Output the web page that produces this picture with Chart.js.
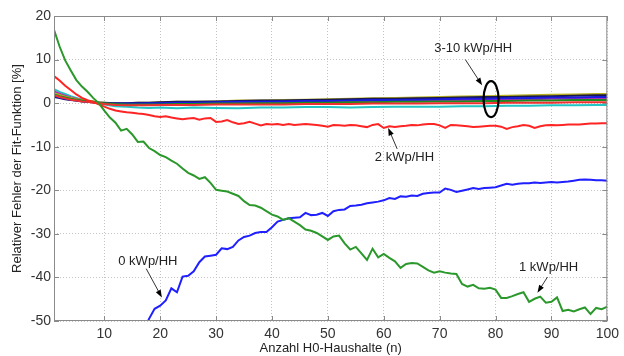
<!DOCTYPE html>
<html>
<head>
<meta charset="utf-8">
<script src="https://cdn.jsdelivr.net/npm/chart.js@4.4.1/dist/chart.umd.min.js"></script>
<style>
  html, body { margin: 0; padding: 0; background: #fff; }
  #wrap { width: 624px; height: 356px; }
</style>
</head>
<body>
<div id="wrap"><canvas id="fitChart"></canvas></div>
<script>
// --- data ---
const nHH = Array.from({ length: 100 }, (_, i) => i + 1);
const xTicks = [10, 20, 30, 40, 50, 60, 70, 80, 90, 100];
const yTicks = [-50, -40, -30, -20, -10, 0, 10, 20];

// 1 kWp/HH
const green1kWp = [
    16.8, 13.0, 9.8, 7.5, 5.3, 3.8, 2.6, 1.2, 0.0, -1.7,
    -3.3, -4.5, -6.3, -5.9, -7.2, -8.9, -8.8, -10.3, -11.0, -11.9,
    -12.4, -13.2, -13.9, -15.0, -16.0, -16.6, -17.4, -17.0, -18.3, -19.9,
    -20.1, -20.3, -20.8, -21.3, -22.5, -23.4, -23.5, -24.0, -24.8, -25.6,
    -26.0, -26.8, -26.4, -27.2, -28.0, -29.0, -29.3, -29.8, -30.6, -31.4,
    -30.6, -30.4, -32.2, -33.6, -33.0, -34.5, -36.0, -33.4, -35.4, -34.6,
    -35.5, -36.3, -37.8, -36.9, -36.7, -36.8, -37.6, -38.4, -38.9, -38.6,
    -38.9, -39.1, -39.2, -41.5, -42.1, -41.7, -42.5, -42.6, -42.4, -42.8,
    -44.7, -44.7, -44.3, -43.8, -43.4, -45.6, -44.9, -44.4, -45.8, -45.6,
    -44.6, -47.7, -47.4, -47.8, -47.3, -46.9, -48.4, -47.0, -47.3, -46.7
];

// 0 kWp/HH (enters the plot from below around n = 18)
const blue0kWp = [
    null, null, null, null, null, null, null, null, null, null,
    null, null, null, null, null, null, -52.5, -49.5, -47.2, -46.5,
    -45.3, -42.5, -43.4, -39.8, -39.6, -38.6, -36.5, -35.2, -35.0, -34.8,
    -33.3, -33.5, -33.0, -31.5, -30.7, -30.4, -29.8, -29.6, -29.6, -28.5,
    -27.2, -26.8, -26.4, -26.3, -26.2, -25.2, -25.7, -25.6, -25.2, -25.9,
    -24.8, -24.5, -24.4, -23.6, -23.5, -23.3, -23.0, -22.8, -22.6, -22.3,
    -21.8, -22.0, -21.4, -21.5, -21.2, -21.3, -20.8, -20.6, -20.5, -20.5,
    -19.6, -19.9, -20.4, -20.1, -19.8, -19.5, -19.7, -19.5, -19.4, -19.3,
    -18.9, -18.5, -18.7, -18.5, -18.4, -18.4, -18.2, -18.3, -18.2, -18.1,
    -18.2, -18.1, -18.0, -17.8, -17.6, -17.5, -17.6, -17.7, -17.7, -17.8
];

// 2 kWp/HH
const red2kWp = [
    6.2, 5.2, 4.0, 3.0, 2.0, 1.2, 0.7, 0.3, -0.3, -0.8,
    -1.3, -1.7, -1.9, -2.1, -2.2, -2.4, -2.5, -2.7, -3.0, -3.2,
    -3.0, -3.3, -3.5, -3.7, -3.5, -3.4, -3.8, -3.5, -3.4, -4.3,
    -4.2, -3.9, -4.4, -4.8, -4.6, -4.3, -4.7, -5.1, -4.8, -4.9,
    -4.8, -5.0, -4.8, -5.0, -4.9, -4.8, -4.9, -5.0, -5.2, -5.4,
    -5.0, -5.1, -5.2, -5.0, -5.1, -5.3, -5.5, -5.0, -4.8, -5.7,
    -5.3, -5.5, -5.3, -5.2, -5.0, -5.1, -4.9, -4.8, -4.8, -5.1,
    -5.7, -5.0, -5.1, -5.2, -5.3, -5.5, -5.4, -5.3, -5.2, -5.2,
    -5.4, -5.9, -5.5, -5.3, -5.0, -5.2, -5.7, -5.3, -5.1, -5.0,
    -5.1, -5.0, -4.9, -4.9, -4.9, -4.8, -4.7, -4.7, -4.6, -4.6
];

// 3-10 kWp/HH bundle, sampled more coarsely
const bundleN = [1, 2, 3, 4, 5, 6, 7, 8, 9, 10, 12, 14, 16, 18, 20, 23, 26, 30, 34, 38,
    42, 46, 50, 54, 58, 62, 66, 70, 74, 78, 82, 86, 90, 94, 98, 100];
const bundleCyan = [3.2, 2.6, 2.1, 1.6, 1.2, 0.8, 0.5, 0.3, 0.0, -0.3, -0.7, -0.8, -1.0, -1.1, -1.0, -1.2, -1.0, -1.1, -1.2, -1.0,
    -1.0, -0.9, -0.9, -1.0, -0.9, -0.8, -0.8, -0.8, -0.7, -0.7, -0.6, -0.6, -0.5, -0.5, -0.4, -0.4];
const bundleMagenta = [2.7, 2.2, 1.7, 1.3, 1.0, 0.7, 0.5, 0.3, 0.1, 0.0, -0.2, -0.3, -0.3, -0.2, -0.2, -0.1, -0.1, 0.0, 0.1, 0.1,
    0.2, 0.3, 0.3, 0.4, 0.4, 0.5, 0.6, 0.6, 0.7, 0.8, 0.8, 0.9, 1.0, 1.0, 1.1, 1.1];
const bundleYellow = [2.3, 1.9, 1.5, 1.2, 0.9, 0.7, 0.5, 0.4, 0.2, 0.1, 0.0, 0.0, 0.1, 0.1, 0.2, 0.3, 0.3, 0.4, 0.6, 0.6,
    0.7, 0.8, 0.9, 1.0, 1.1, 1.2, 1.3, 1.4, 1.5, 1.6, 1.7, 1.8, 1.9, 2.0, 2.1, 2.1];
const bundleGreen = [2.0, 1.6, 1.3, 1.0, 0.8, 0.6, 0.4, 0.3, 0.1, 0.0, -0.2, -0.3, -0.3, -0.3, -0.3, -0.2, -0.2, -0.1, -0.1, 0.0,
    0.0, 0.1, 0.1, 0.2, 0.2, 0.3, 0.3, 0.4, 0.4, 0.5, 0.5, 0.6, 0.6, 0.7, 0.7, 0.7];
const bundleBlue = [1.6, 1.3, 1.0, 0.8, 0.6, 0.5, 0.3, 0.2, 0.1, 0.0, -0.1, -0.1, -0.1, 0.0, 0.0, 0.1, 0.1, 0.2, 0.3, 0.3,
    0.4, 0.5, 0.5, 0.6, 0.7, 0.7, 0.8, 0.9, 1.0, 1.0, 1.1, 1.2, 1.3, 1.3, 1.4, 1.4];
const bundleBlack = [1.4, 1.2, 0.9, 0.7, 0.6, 0.4, 0.3, 0.2, 0.1, 0.1, 0.0, 0.0, 0.1, 0.1, 0.2, 0.3, 0.3, 0.4, 0.5, 0.6,
    0.6, 0.7, 0.8, 0.9, 1.0, 1.0, 1.1, 1.2, 1.3, 1.4, 1.4, 1.5, 1.6, 1.7, 1.8, 1.8];
const bundleRed = [1.8, 1.4, 1.1, 0.8, 0.6, 0.4, 0.3, 0.1, 0.0, -0.2, -0.4, -0.5, -0.5, -0.5, -0.4, -0.4, -0.4, -0.3, -0.3, -0.3,
    -0.3, -0.2, -0.2, -0.2, -0.1, -0.1, -0.1, 0.0, 0.0, 0.0, 0.1, 0.1, 0.1, 0.2, 0.2, 0.2];

// --- helpers ---
function toPoints(xs, ys) {
    return xs.map((x, i) => ({ x: x, y: ys[i] })).filter(p => p.y !== null);
}

function lineSet(label, xs, ys, color) {
    return {
        label: label,
        data: toPoints(xs, ys),
        borderColor: color,
        borderWidth: 2,
        pointRadius: 0,
        tension: 0,
        fill: false
    };
}

// annotations in data units: text, text position, arrow tail, arrow head
const notes = [
    { text: '3-10 kWp/HH', at: [76, 12.5], from: [74.6, 10.0], to: [77.6, 4.1] },
    { text: '2 kWp/HH', at: [63.7, -12.5], from: [62.4, -10.5], to: [60.8, -5.7] },
    { text: '0 kWp/HH', at: [17.8, -36.4], from: [17.5, -38.0], to: [20.3, -44.6] },
    { text: '1 kWp/HH', at: [89.5, -37.6], from: [89.3, -39.9], to: [87.5, -43.5] }
];

const frameAndNotes = {
    id: 'frameAndNotes',
    afterDatasetsDraw(chart) {
        const { ctx, chartArea: a, scales: { x, y } } = chart;
        ctx.save();

        // axes box and inward ticks, matlab style
        ctx.strokeStyle = '#8a8a8a';
        ctx.lineWidth = 1;
        ctx.strokeRect(a.left + 0.5, a.top + 0.5, a.right - a.left - 1, a.bottom - a.top - 1);
        ctx.beginPath();
        xTicks.forEach(v => {
            const px = Math.round(x.getPixelForValue(v)) + 0.5;
            ctx.moveTo(px, a.bottom); ctx.lineTo(px, a.bottom - 5);
            ctx.moveTo(px, a.top); ctx.lineTo(px, a.top + 5);
        });
        yTicks.forEach(v => {
            const py = Math.round(y.getPixelForValue(v)) + 0.5;
            ctx.moveTo(a.left, py); ctx.lineTo(a.left + 5, py);
            ctx.moveTo(a.right, py); ctx.lineTo(a.right - 5, py);
        });
        ctx.stroke();

        // ellipse around the 3-10 kWp bundle
        ctx.strokeStyle = '#000';
        ctx.lineWidth = 2.2;
        ctx.beginPath();
        ctx.ellipse(x.getPixelForValue(79.2), y.getPixelForValue(0.9), 7.5, 18, 0, 0, Math.PI * 2);
        ctx.stroke();

        // labels and arrows
        ctx.font = '13px "Liberation Sans", Arial, sans-serif';
        ctx.textAlign = 'center';
        ctx.textBaseline = 'middle';
        notes.forEach(n => {
            ctx.fillStyle = '#222';
            ctx.fillText(n.text, x.getPixelForValue(n.at[0]), y.getPixelForValue(n.at[1]));

            const x1 = x.getPixelForValue(n.from[0]), y1 = y.getPixelForValue(n.from[1]);
            const x2 = x.getPixelForValue(n.to[0]), y2 = y.getPixelForValue(n.to[1]);
            const ang = Math.atan2(y2 - y1, x2 - x1);
            ctx.strokeStyle = '#333';
            ctx.lineWidth = 1;
            ctx.beginPath();
            ctx.moveTo(x1, y1);
            ctx.lineTo(x2 - 5 * Math.cos(ang), y2 - 5 * Math.sin(ang));
            ctx.stroke();
            ctx.fillStyle = '#000';
            ctx.beginPath();
            ctx.moveTo(x2, y2);
            ctx.lineTo(x2 - 8 * Math.cos(ang - 0.35), y2 - 8 * Math.sin(ang - 0.35));
            ctx.lineTo(x2 - 8 * Math.cos(ang + 0.35), y2 - 8 * Math.sin(ang + 0.35));
            ctx.closePath();
            ctx.fill();
        });
        ctx.restore();
    }
};

const tickFont = { family: '"Liberation Sans", Arial, sans-serif', size: 14 };
const titleFont = { family: '"Liberation Sans", Arial, sans-serif', size: 13 };

new Chart(document.getElementById('fitChart'), {
    type: 'line',
    data: {
        datasets: [
            lineSet('1 kWp/HH', nHH, green1kWp, '#2b982b'),
            lineSet('0 kWp/HH', nHH, blue0kWp, '#1f1fff'),
            lineSet('2 kWp/HH', nHH, red2kWp, '#ff2424'),
            lineSet('3-10 a', bundleN, bundleRed, '#f03030'),
            lineSet('3-10 b', bundleN, bundleGreen, '#1f8a1f'),
            lineSet('3-10 c', bundleN, bundleBlue, '#1a1ae0'),
            lineSet('3-10 d', bundleN, bundleBlack, '#1a1a50'),
            lineSet('3-10 e', bundleN, bundleYellow, '#b8b020'),
            lineSet('3-10 f', bundleN, bundleMagenta, '#b030b0'),
            lineSet('3-10 g', bundleN, bundleCyan, '#22c4c4')
        ]
    },
    options: {
        responsive: true,
        maintainAspectRatio: false,
        animation: false,
        layout: { padding: { left: 0, top: 16, right: 12, bottom: 0 } },
        plugins: {
            legend: { display: false },
            tooltip: { enabled: false }
        },
        scales: {
            x: {
                type: 'linear',
                min: 1,
                max: 100,
                afterBuildTicks: scale => { scale.ticks = xTicks.map(v => ({ value: v })); },
                afterFit: scale => { scale.height = 35; },
                grid: { color: '#c4c4c4', lineWidth: 1, drawTicks: false },
                border: { display: false, dash: [1, 2] },
                ticks: { color: '#333', font: tickFont, padding: 5, maxRotation: 0 },
                title: {
                    display: true,
                    text: 'Anzahl H0-Haushalte (n)',
                    color: '#222',
                    font: titleFont,
                    padding: { top: 0, bottom: 0 }
                }
            },
            y: {
                min: -50,
                max: 20,
                afterBuildTicks: scale => { scale.ticks = yTicks.map(v => ({ value: v })); },
                afterFit: scale => { scale.width = 54; },
                grid: { color: '#c4c4c4', lineWidth: 1, drawTicks: false },
                border: { display: false, dash: [1, 2] },
                ticks: { color: '#333', font: tickFont, padding: 3 },
                title: {
                    display: true,
                    text: 'Relativer Fehler der Fit-Funktion [%]',
                    color: '#222',
                    font: titleFont,
                    padding: { top: 10, bottom: 0 }
                }
            }
        }
    },
    plugins: [frameAndNotes]
});
</script>
</body>
</html>
